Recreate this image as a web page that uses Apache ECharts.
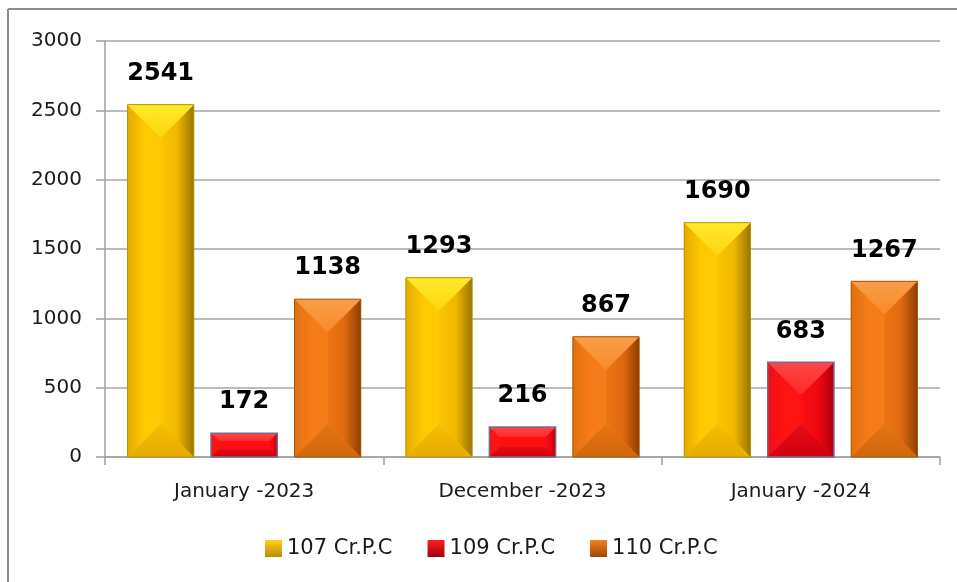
<!DOCTYPE html>
<html>
<head>
<meta charset="utf-8">
<script src="https://cdn.jsdelivr.net/npm/echarts@6/dist/echarts.min.js"></script>
<style>
html,body{margin:0;padding:0;background:#fff;}
#chart{width:957px;height:582px;}
</style>
</head>
<body>
<div id="chart"></div>
<script>
const categories = ['January -2023', 'December -2023', 'January -2024'];
const seriesNames = ['107 Cr.P.C', '109 Cr.P.C', '110 Cr.P.C'];
const values107 = [2541, 1293, 1690];
const values109 = [172, 216, 683];
const values110 = [1138, 867, 1267];
const yTicks = [0, 500, 1000, 1500, 2000, 2500, 3000];

const palettes = [
  { top: ['#FFEA2A', '#FFD410'], left: ['#E3AC00', '#FFC800', '#FFCB04'], right: ['#FCC400', '#F0B800', '#9A7400'], bottom: ['#F4BE00', '#E6AC00'], center: '#FFC800', stroke: '#B89000', legend: ['#FFD21A', '#B88E00'] },
  { top: ['#FF4646', '#FF2A2A'], left: ['#EE1018', '#FF1414', '#FF1414'], right: ['#FA0C14', '#EE0810', '#B0000C'], bottom: ['#E40C16', '#D0000E'], center: '#FF1010', stroke: '#7A6A90', legend: ['#FF2020', '#A0000C'] },
  { top: ['#FA9E48', '#F68A2A'], left: ['#E27010', '#F57C18', '#F57D1A'], right: ['#EC7414', '#E06A10', '#8E4000'], bottom: ['#E47414', '#D2660C'], center: '#F57C18', stroke: '#A85000', legend: ['#F58020', '#9A4800'] }
];

function lin(stops, horiz) {
  return {
    type: 'linear', x: 0, y: 0, x2: horiz ? 1 : 0, y2: horiz ? 0 : 1,
    colorStops: stops.map((c, i) => ({ offset: i / (stops.length - 1), color: c }))
  };
}

function makeRender(si) {
  const p = palettes[si];
  return function (params, api) {
    const catIdx = api.value(0);
    const val = api.value(1);
    const base = api.coord([catIdx, 0]);
    const topPt = api.coord([catIdx, val]);
    const band = api.size([1, 0])[0];
    const bw = band * 0.238;
    const step = band * 0.30;
    const cx = base[0] + (si - 1) * step;
    const x0 = cx - bw / 2, x1 = cx + bw / 2;
    const y0 = topPt[1], y1 = base[1];
    const h = y1 - y0;
    const d = Math.min(bw / 2, h / 3);
    const ix0 = x0 + d, ix1 = x1 - d, iy0 = y0 + d, iy1 = y1 - d;
    const children = [
      { type: 'rect', shape: { x: x0, y: y0, width: bw, height: h }, style: { fill: p.center } },
      { type: 'polygon', shape: { points: [[x0, y0], [x0, y1], [ix0, iy1], [ix0, iy0]] }, style: { fill: lin(p.left, true) } },
      { type: 'polygon', shape: { points: [[x1, y0], [x1, y1], [ix1, iy1], [ix1, iy0]] }, style: { fill: lin(p.right, true) } },
      { type: 'polygon', shape: { points: [[x0, y0], [x1, y0], [ix1, iy0], [ix0, iy0]] }, style: { fill: lin(p.top, false) } },
      { type: 'polygon', shape: { points: [[x0, y1], [x1, y1], [ix1, iy1], [ix0, iy1]] }, style: { fill: lin(p.bottom, false) } },
      { type: 'rect', shape: { x: x0, y: y0, width: bw, height: h }, style: { fill: 'none', stroke: p.stroke, lineWidth: si === 1 ? 1.5 : 1 } },
      { type: 'text', style: { text: String(val), x: cx, y: y0 - 31, align: 'center', verticalAlign: 'middle', fill: '#000', font: 'bold 24px "DejaVu Sans"' } }
    ];
    return { type: 'group', children: children };
  };
}

const allValues = [values107, values109, values110];
const chart = echarts.init(document.getElementById('chart'), null, { renderer: 'canvas' });

const option = {
  backgroundColor: '#ffffff',
  animation: false,
  grid: { left: 105, right: 17, top: 41, bottom: 125, containLabel: false },
  legend: {
    data: seriesNames.map((n, i) => ({ name: n, icon: 'rect', itemStyle: { color: lin(palettes[i].legend, false) } })),
    top: 533,
    left: 260,
    itemWidth: 17,
    itemHeight: 17,
    itemGap: 35,
    textStyle: { fontFamily: 'DejaVu Sans', fontSize: 21, color: '#1a1a1a' }
  },
  xAxis: {
    type: 'category',
    data: categories,
    axisLine: { lineStyle: { color: '#A0A0A0', width: 1.5 } },
    axisTick: { show: true, length: 8, lineStyle: { color: '#A0A0A0', width: 1.5 } },
    axisLabel: { fontFamily: 'DejaVu Sans', fontSize: 20, color: '#1a1a1a', margin: 25 }
  },
  yAxis: {
    type: 'value',
    min: yTicks[0],
    max: yTicks[yTicks.length - 1],
    interval: 500,
    axisLine: { show: true, lineStyle: { color: '#A0A0A0', width: 1.5 } },
    axisTick: { show: true, length: 9, lineStyle: { color: '#A0A0A0', width: 1.5 } },
    axisLabel: { fontFamily: 'DejaVu Sans', fontSize: 20, color: '#1a1a1a', margin: 23, formatter: v => String(v) },
    splitLine: { show: true, lineStyle: { color: '#A6A6A6', width: 1.5 } }
  },
  series: seriesNames.map((name, si) => ({
    name: name,
    type: 'custom',
    renderItem: makeRender(si),
    itemStyle: { color: lin(palettes[si].legend, false) },
    encode: { x: 0, y: 1 },
    data: allValues[si].map((v, ci) => [ci, v]),
    clip: false
  })),
  graphic: [
    { type: 'line', shape: { x1: 8, y1: 9, x2: 957, y2: 9 }, style: { stroke: '#8C8C8C', lineWidth: 2 }, silent: true },
    { type: 'line', shape: { x1: 8, y1: 9, x2: 8, y2: 582 }, style: { stroke: '#8C8C8C', lineWidth: 2 }, silent: true }
  ]
};
chart.setOption(option);
</script>
</body>
</html>
